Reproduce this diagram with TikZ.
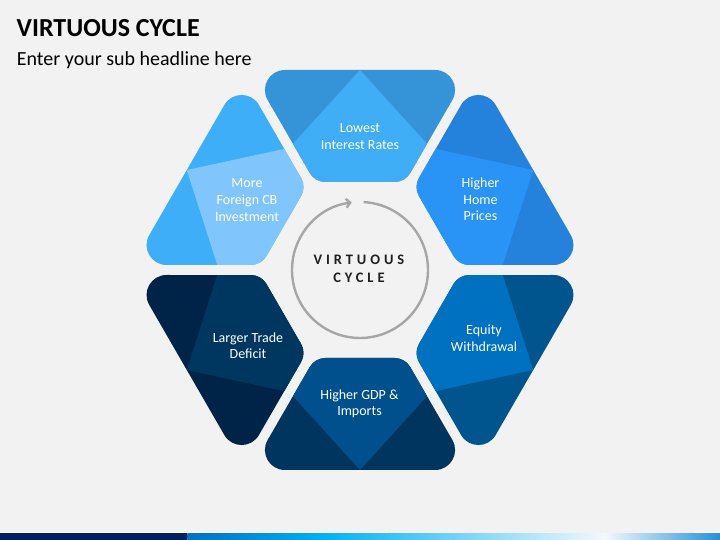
\documentclass[tikz,border=0pt]{standalone}
\usepackage{fontspec}
\setmainfont{Carlito}
\usetikzlibrary{calc,arrows.meta}
\definecolor{bgc}{HTML}{F2F2F2}
\definecolor{arcgray}{HTML}{A6A6A6}
\definecolor{navy}{HTML}{002060}
\definecolor{barA}{HTML}{0070C0}
\definecolor{barB}{HTML}{00B0F0}
\definecolor{barC}{HTML}{F4F8FB}
\definecolor{barD}{HTML}{2590D8}
\definecolor{topK}{HTML}{3594D8}\definecolor{topL}{HTML}{40AEF7}
\definecolor{ulK}{HTML}{3FAEF9}\definecolor{ulL}{HTML}{80C6FC}
\definecolor{urK}{HTML}{2482DC}\definecolor{urL}{HTML}{2993F6}
\definecolor{lrK}{HTML}{00558F}\definecolor{lrL}{HTML}{0070C0}
\definecolor{btK}{HTML}{003560}\definecolor{btL}{HTML}{00508D}
\definecolor{llK}{HTML}{002447}\definecolor{llL}{HTML}{003760}
\newcommand\hexseg[3]{%
\begin{scope}[shift={(360,270)},rotate=#1]
\coordinate (A) at (-109.7,200);
\coordinate (B) at (109.7,200);
\coordinate (C) at (45,88);
\coordinate (D) at (-45,88);
\begin{scope}
\clip ($(A)!34.6pt!(B)$) -- ($(B)!34.6pt!(A)$)
  .. controls ($(B)!19.2pt!(A)$) and ($(B)!19.2pt!(C)$) .. ($(B)!34.6pt!(C)$)
  -- ($(C)!10.4pt!(B)$)
  .. controls ($(C)!4pt!(B)$) and ($(C)!4pt!(D)$) .. ($(C)!10.4pt!(D)$)
  -- ($(D)!10.4pt!(C)$)
  .. controls ($(D)!4pt!(C)$) and ($(D)!4pt!(A)$) .. ($(D)!10.4pt!(A)$)
  -- ($(A)!34.6pt!(D)$)
  .. controls ($(A)!19.2pt!(D)$) and ($(A)!19.2pt!(B)$) .. ($(A)!34.6pt!(B)$)
  -- cycle;
\fill[#2] (-160,40) rectangle (160,240);
\fill[#3] (0,200) -- (107.2,81.8) -- (107.2,40) -- (-107.2,40) -- (-107.2,81.8) -- cycle;
\end{scope}
\end{scope}}
\tikzset{
  segtext/.style={text=white, align=center, inner sep=0,
    font=\fontsize{14}{16.7}\selectfont},
}
\begin{document}
\begin{tikzpicture}[x=1pt,y=1pt]
\useasboundingbox (0,0) rectangle (720,540);
\fill[bgc] (0,0) rectangle (720,540);
% bottom bar
\fill[navy] (0,0) rectangle (187.3,6.7);
\shade[left color=barA, right color=barB] (187.3,0) rectangle (321,6.7);
\shade[left color=barB, right color=barC] (321,0) rectangle (605,6.7);
\shade[left color=barC, right color=barD] (605,0) rectangle (720,6.7);
\fill[white] (0,6.7) rectangle (388,7.7);
\fill[white] (695,6.7) rectangle (720,7.7);
% titles
\node[anchor=base west, inner sep=0, font=\fontsize{26}{30}\selectfont\bfseries] (title) at (16.5,503.3) {VIRTUOUS CYCLE};
\node[anchor=base west, inner sep=0, font=\fontsize{20}{24}\selectfont] (sub) at (16.7,474) {Enter your sub headline here};
% segments
\hexseg{0}{topK}{topL}
\hexseg{60}{ulK}{ulL}
\hexseg{120}{llK}{llL}
\hexseg{180}{btK}{btL}
\hexseg{240}{lrK}{lrL}
\hexseg{300}{urK}{urL}
% segment labels
\node[segtext] (t1) at (360,403.5) {Lowest\\Interest Rates};
\node[segtext] (t2) at (480.5,340.7) {Higher\\Home\\Prices};
\node[segtext] (t3) at (484,201.7) {Equity\\Withdrawal};
\node[segtext] (t4) at (359.5,136.2) {Higher GDP \&\\Imports};
\node[segtext] (t5) at (248,194.3) {Larger Trade\\Deficit};
\node[segtext] (t6) at (247,340) {More\\Foreign CB\\Investment};
% center
\coordinate (O) at (360,270);
\draw[arcgray, line width=2.4pt, -{Straight Barb[length=4pt,width=9pt]}]
  ($(O)+(87:68)$) arc[start angle=87, end angle=-263, radius=68];
\node[align=center, inner sep=0, text=black!88,
  font=\fontsize{14.5}{18.3}\selectfont\bfseries\addfontfeatures{LetterSpace=27}] (vc) at (359,271.3) {VIRTUOUS\\CYCLE};
\end{tikzpicture}
\end{document}
